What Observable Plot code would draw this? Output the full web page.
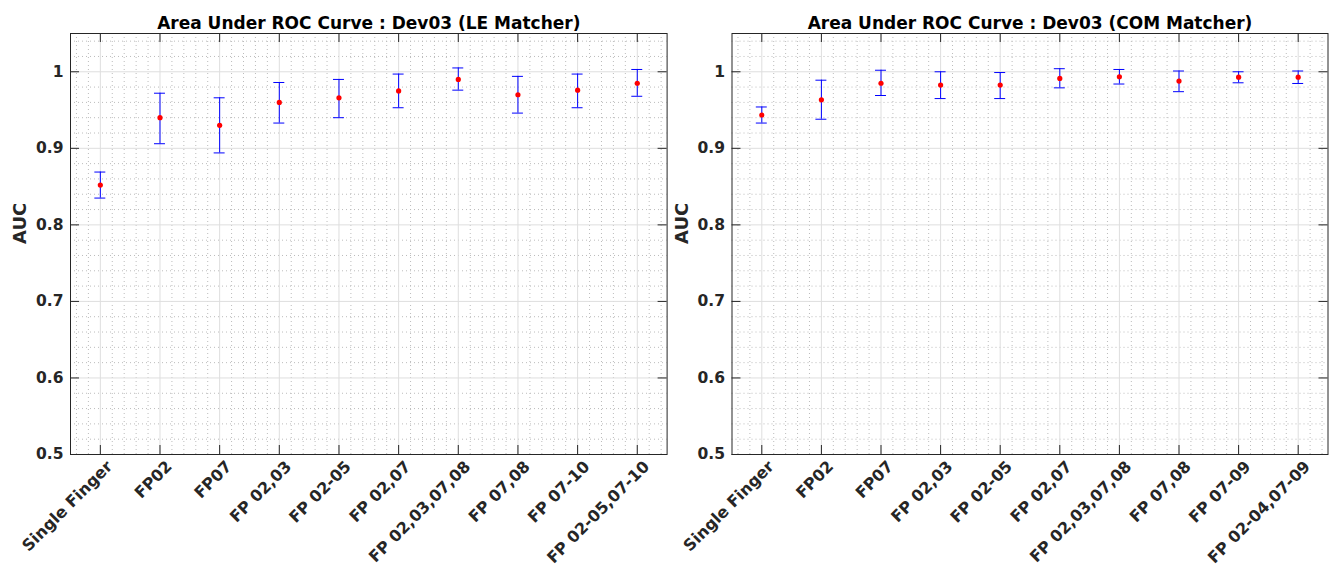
<!DOCTYPE html>
<html><head><meta charset="utf-8">
<script src="https://cdn.jsdelivr.net/npm/d3@7"></script>
<script src="https://cdn.jsdelivr.net/npm/@observablehq/plot@0.6"></script>
<style>
html,body{margin:0;padding:0;background:#fff;}
#wrap{display:flex;width:1330px;height:568px;overflow:hidden;}
#wrap svg{display:block;flex:none;}
</style></head><body><div id="wrap"></div>
<script>
const leftTitle = "Area Under ROC Curve : Dev03 (LE Matcher)";
const rightTitle = "Area Under ROC Curve : Dev03 (COM Matcher)";
const yLabel = "AUC";

const leftCategories = ["Single Finger","FP02","FP07","FP 02,03","FP 02-05","FP 02,07","FP 02,03,07,08","FP 07,08","FP 07-10","FP 02-05,07-10"];
const leftAUC   = [0.852, 0.940, 0.930, 0.960, 0.966, 0.975, 0.990, 0.970, 0.976, 0.985];
const leftLower = [0.835, 0.906, 0.894, 0.933, 0.940, 0.953, 0.976, 0.946, 0.953, 0.968];
const leftUpper = [0.869, 0.972, 0.966, 0.986, 0.990, 0.997, 1.005, 0.994, 0.997, 1.003];

const rightCategories = ["Single Finger","FP02","FP07","FP 02,03","FP 02-05","FP 02,07","FP 02,03,07,08","FP 07,08","FP 07-09","FP 02-04,07-09"];
const rightAUC   = [0.9435, 0.9634, 0.985, 0.9826, 0.9826, 0.9913, 0.9935, 0.9878, 0.993, 0.993];
const rightLower = [0.933, 0.938, 0.969, 0.965, 0.965, 0.979, 0.984, 0.974, 0.9856, 0.9847];
const rightUpper = [0.954, 0.989, 1.002, 1.000, 0.999, 1.004, 1.003, 1.001, 1.000, 1.001];

const yTicks = [0.5, 0.6, 0.7, 0.8, 0.9, 1];
const yTickLabels = ["0.5", "0.6", "0.7", "0.8", "0.9", "1"];
const yDomain = [0.5, 1.05];

// minor grid positions (every 0.02 in y, every 0.2 category step in x)
const yMinor = d3.range(25, 53).filter(k => k % 5 !== 0).map(k => k / 50);
const xMinor = d3.range(3, 53).filter(k => k % 5 !== 0).map(k => k / 5);

const FONT = "'DejaVu Sans', 'Liberation Sans', sans-serif";
const DARK = "#262626";

function panel({title, cats, auc, lo, hi, width, ml, mr}) {
  const H = 568, mt = 33, mb = 114;
  const fw = width - ml - mr, fh = H - mt - mb;
  const tl = 9;
  const capHalf = 0.092;
  const data = cats.map((c, i) => ({pos: i + 1, c, auc: auc[i], lo: lo[i], hi: hi[i]}));
  return Plot.plot({
    width, height: H, marginTop: mt, marginBottom: mb, marginLeft: ml, marginRight: mr,
    x: {domain: [0.5, cats.length + 0.5], axis: null},
    y: {domain: yDomain, axis: null},
    style: {fontFamily: FONT, background: "#fff", overflow: "visible"},
    marks: [
      Plot.ruleY(yMinor, {stroke: "#bcbcbc", strokeDasharray: "1,3"}),
      Plot.ruleX(xMinor, {stroke: "#bcbcbc", strokeDasharray: "1,3"}),
      Plot.ruleY(yTicks, {stroke: "#dedede"}),
      Plot.ruleX(data, {x: "pos", stroke: "#dedede"}),
      Plot.tickX(data, {x: "pos", insetTop: fh - tl, stroke: DARK}),
      Plot.tickX(data, {x: "pos", insetBottom: fh - tl, stroke: DARK}),
      Plot.tickY(yTicks, {insetRight: fw - tl, stroke: DARK}),
      Plot.tickY(yTicks, {insetLeft: fw - tl, stroke: DARK}),
      Plot.frame({stroke: DARK}),
      Plot.ruleX(data, {x: "pos", y1: "lo", y2: "hi", stroke: "#0000ff"}),
      Plot.ruleY(data, {y: "lo", x1: d => d.pos - capHalf, x2: d => d.pos + capHalf, stroke: "#0000ff"}),
      Plot.ruleY(data, {y: "hi", x1: d => d.pos - capHalf, x2: d => d.pos + capHalf, stroke: "#0000ff"}),
      Plot.dot(data, {x: "pos", y: "auc", r: 2.6, fill: "#ff0000", stroke: null}),
      Plot.text(data, {x: "pos", text: "c", frameAnchor: "bottom", rotate: -45, textAnchor: "end",
        dx: 13, dy: 13, fontSize: 16, fontWeight: "bold", fill: DARK}),
      Plot.text(yTicks, {y: d => d, text: (d, i) => yTickLabels[i], frameAnchor: "left", textAnchor: "end",
        dx: -7, fontSize: 15.5, fontWeight: "bold", fill: DARK}),
      Plot.text([title], {frameAnchor: "top", dy: -17, fontSize: 17, fontWeight: "bold", fill: "#000"}),
      Plot.text([yLabel], {frameAnchor: "left", dx: -50, rotate: -90, fontSize: 18, fontWeight: "bold", fill: DARK})
    ]
  });
}

const wrap = document.getElementById("wrap");
wrap.append(panel({title: leftTitle, cats: leftCategories, auc: leftAUC, lo: leftLower, hi: leftUpper,
  width: 668, ml: 70, mr: 1.4}));
wrap.append(panel({title: rightTitle, cats: rightCategories, auc: rightAUC, lo: rightLower, hi: rightUpper,
  width: 662, ml: 63.5, mr: 2.5}));
</script></body></html>
